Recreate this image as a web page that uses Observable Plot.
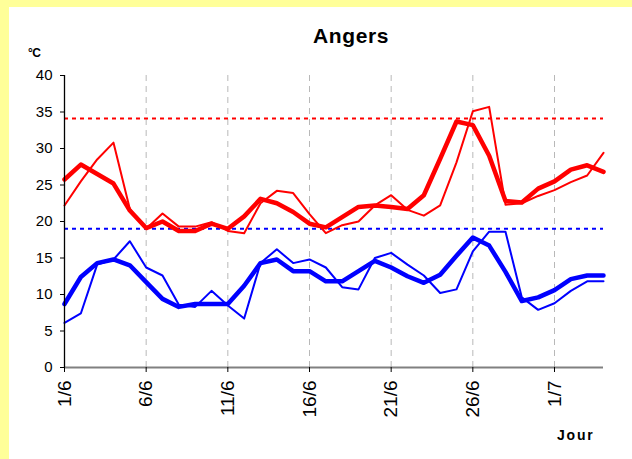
<!DOCTYPE html>
<html>
<head>
<meta charset="utf-8">
<script src="https://cdn.jsdelivr.net/npm/d3@7"></script>
<script src="https://cdn.jsdelivr.net/npm/@observablehq/plot@0.6"></script>
<style>
  html, body { margin: 0; padding: 0; background: #FFFF99; }
  #wrap { position: relative; width: 632px; height: 459px; overflow: hidden; font-family: "Liberation Sans", Arial, sans-serif; }
  #chart { position: absolute; left: 9px; top: 7px; width: 623px; height: 452px; background: #fff; }
  .lbl { position: absolute; color: #000; white-space: nowrap; font-family: "Liberation Sans", Arial, sans-serif; }
</style>
</head>
<body>
<div id="wrap">
  <div id="chart"></div>
  <div class="lbl" id="title" style="left:0; width:702px; text-align:center; top:24px; font-size:21px; font-weight:bold; letter-spacing:0.6px;">Angers</div>
  <div class="lbl" style="left:28px; top:46px; font-size:12px; font-weight:bold; letter-spacing:-0.5px;">°C</div>
  <div class="lbl" style="left:557px; top:427px; font-size:14px; font-weight:bold; letter-spacing:1.8px;">Jour</div>
</div>
<script>
// Day labels for x ticks (index 0 = 1/6, 30 = 1/7)
const tickIndex = [0, 5, 10, 15, 20, 25, 30];
const tickLabels = ["1/6", "6/6", "11/6", "16/6", "21/6", "26/6", "1/7"];
const yTicks = [0, 5, 10, 15, 20, 25, 30, 35, 40];

// Max temperature: smoothed (thick) and daily (thin)
const tmaxMoy = [25.75, 27.8, 26.5, 25.2, 21.5, 19.1, 20.0, 18.7, 18.7, 19.7, 19.0, 20.7, 23.1, 22.5, 21.3, 19.7, 19.2, 20.6, 22.0, 22.2, 22.0, 21.7, 23.6, 28.6, 33.7, 33.2, 29.0, 22.8, 22.6, 24.5, 25.5, 27.1, 27.7, 26.8];
const tmaxJour = [22.2, 25.5, 28.5, 30.8, 21.7, 19.0, 21.1, 19.3, 19.3, 19.9, 18.7, 18.4, 22.5, 24.2, 23.9, 21.0, 18.4, 19.5, 20.0, 22.2, 23.6, 21.6, 20.8, 22.2, 28.1, 35.1, 35.7, 22.3, 22.5, 23.5, 24.3, 25.4, 26.3, 29.4];
// Min temperature: smoothed (thick) and daily (thin)
const tminMoy = [8.7, 12.4, 14.3, 14.8, 14.0, 11.7, 9.4, 8.3, 8.7, 8.7, 8.7, 11.2, 14.3, 14.8, 13.2, 13.2, 11.8, 11.8, 13.2, 14.6, 13.7, 12.5, 11.6, 12.7, 15.3, 17.8, 16.7, 13.1, 9.1, 9.6, 10.6, 12.1, 12.6, 12.6];
const tminJour = [6.1, 7.4, 14.1, 14.8, 17.3, 13.7, 12.6, 8.6, 8.3, 10.5, 8.5, 6.7, 14.3, 16.2, 14.3, 14.8, 13.7, 11.0, 10.7, 15.0, 15.7, 14.1, 12.6, 10.2, 10.7, 15.9, 18.6, 18.6, 9.6, 7.9, 8.8, 10.5, 11.8, 11.8];
// Reference thresholds
const seuilMax = [34.1];
const seuilMin = [19];

const idx = d3.range(tmaxMoy.length);
const labelOf = new Map(tickIndex.map((t, i) => [t, tickLabels[i]]));

const plot = Plot.plot({
  width: 623,
  height: 452,
  marginLeft: 55,
  marginTop: 68,
  marginRight: 29,
  marginBottom: 92,
  style: { background: "#fff", fontFamily: "Liberation Sans, Arial, sans-serif", color: "#000" },
  x: { domain: [0, 33] },
  y: { domain: [0, 40] },
  marks: [
    Plot.gridX(tickIndex.slice(1), { stroke: "#b8b8b8", strokeOpacity: 1, strokeWidth: 1, strokeDasharray: "6,5" }),
    Plot.ruleY(seuilMax, { stroke: "#ff0000", strokeWidth: 2, strokeDasharray: "4,4" }),
    Plot.ruleY(seuilMin, { stroke: "#0000ff", strokeWidth: 2, strokeDasharray: "4,4" }),
    Plot.lineY(tmaxJour, { x: idx, stroke: "#ff0000", strokeWidth: 2 }),
    Plot.lineY(tminJour, { x: idx, stroke: "#0000ff", strokeWidth: 2 }),
    Plot.lineY(tmaxMoy, { x: idx, stroke: "#ff0000", strokeWidth: 4.5, strokeLinejoin: "round" }),
    Plot.lineY(tminMoy, { x: idx, stroke: "#0000ff", strokeWidth: 4.5, strokeLinejoin: "round" }),
    Plot.ruleY([0], { stroke: "#808080", strokeWidth: 2 }),
    Plot.ruleX([0], { stroke: "#000", strokeWidth: 1.3 }),
    Plot.axisY({ ticks: yTicks, tickSize: 4, tickPadding: 8, fontSize: 15, label: null, stroke: "#000" }),
    Plot.axisX({ ticks: tickIndex, tickFormat: d => labelOf.get(d), tickRotate: -90, tickSize: 5, tickPadding: 8, fontSize: 19, label: null, stroke: "#000" })
  ]
});
document.getElementById("chart").appendChild(plot);
</script>
</body>
</html>
